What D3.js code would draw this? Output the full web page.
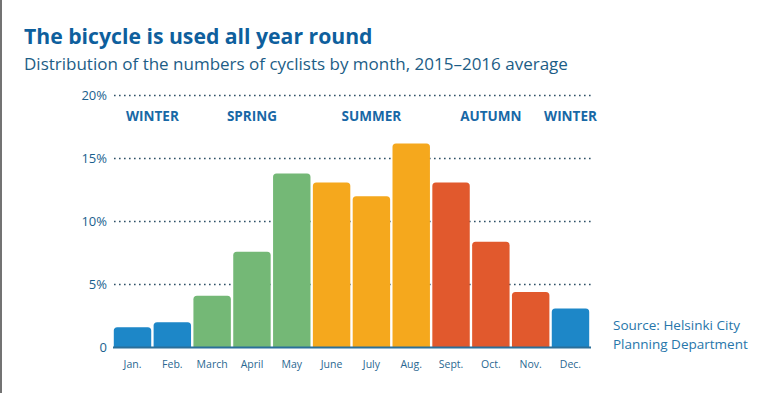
<!DOCTYPE html>
<html>
<head>
<meta charset="utf-8">
<script src="https://cdn.jsdelivr.net/npm/d3@7"></script>
<style>
  body { margin:0; background:#fff; }
  svg { display:block; font-family:"Open Sans", "Noto Sans", sans-serif; }
</style>
</head>
<body>
<svg id="chart" width="780" height="393"></svg>
<script>
// data
const months = ['Jan.','Feb.','March','April','May','June','July','Aug.','Sept.','Oct.','Nov.','Dec.'];
const shares = [1.6, 2.0, 4.1, 7.6, 13.8, 13.1, 12.0, 16.2, 13.1, 8.4, 4.4, 3.1];
const monthSeason = ['winter','winter','spring','spring','spring','summer','summer','summer','autumn','autumn','autumn','winter'];
const seasonLabels = [
  {text:'WINTER', from:'Jan.', to:'Feb.'},
  {text:'SPRING', from:'April', to:'April'},
  {text:'SUMMER', from:'July', to:'July'},
  {text:'AUTUMN', from:'Oct.', to:'Oct.'},
  {text:'WINTER', from:'Dec.', to:'Dec.'}
];
const yTicks = [0, 5, 10, 15, 20];

const seasonColor = {winter:'#1d87c8', spring:'#74b876', summer:'#f5a81d', autumn:'#e1592d'};
const textBlue = '#1b5f8e';

const svg = d3.select('#chart');

// thin frame line on the left
svg.append('line').attr('x1',1).attr('x2',1).attr('y1',0).attr('y2',393)
  .attr('stroke','#444').attr('stroke-width',1.5);

// title + subtitle
svg.append('text').attr('x',24).attr('y',44)
  .style('font-size','21.2px').style('font-weight',700).style('fill','#0e5f9d')
  .text('The bicycle is used all year round');
svg.append('text').attr('x',24).attr('y',70)
  .style('font-size','17px').style('fill','#1c5d86')
  .text('Distribution of the numbers of cyclists by month, 2015–2016 average');

const x = d3.scaleBand().domain(months).range([113, 590]).paddingInner(0.06).paddingOuter(0.02);
const y = d3.scaleLinear().domain([0, 20]).range([347.5, 95.5]);

// dotted grid
const grid = svg.append('g');
grid.selectAll('line').data(yTicks.filter(d => d > 0)).join('line')
  .attr('x1', 114).attr('x2', 593)
  .attr('y1', d => y(d)).attr('y2', d => y(d))
  .attr('stroke', '#2d4f66').attr('stroke-width', 1.6)
  .attr('stroke-dasharray', '1.6,3.4');

// y tick labels
svg.append('g').selectAll('text').data(yTicks).join('text')
  .attr('x', 107).attr('y', d => y(d)).attr('dy','0.35em')
  .attr('text-anchor','end')
  .style('font-size','13px').style('fill', textBlue)
  .text(d => d === 0 ? '0' : d + '%');

// bars with rounded tops
const r = 3.5;
function barPath(d, i){
  const x0 = x(months[i]), w = x.bandwidth();
  const y0 = y(d), yb = y(0);
  return `M${x0},${yb}V${y0 + r}Q${x0},${y0} ${x0 + r},${y0}H${x0 + w - r}Q${x0 + w},${y0} ${x0 + w},${y0 + r}V${yb}Z`;
}
svg.append('g').selectAll('path').data(shares).join('path')
  .attr('d', barPath)
  .attr('fill', (d, i) => seasonColor[monthSeason[i]]);

// baseline
svg.append('line').attr('x1', 113).attr('x2', 591).attr('y1', y(0)).attr('y2', y(0))
  .attr('stroke', '#2b6f99').attr('stroke-width', 1.8);

// month labels
svg.append('g').selectAll('text').data(months).join('text')
  .attr('x', d => x(d) + x.bandwidth() / 2).attr('y', 368)
  .attr('text-anchor','middle')
  .style('font-size','10.5px').style('fill', '#2a6791')
  .text(d => d);

// season labels
svg.append('g').selectAll('text').data(seasonLabels).join('text')
  .attr('x', d => (x(d.from) + x(d.to) + x.bandwidth()) / 2)
  .attr('y', 121)
  .attr('text-anchor','middle')
  .style('font-size','13.5px').style('font-weight',700).style('fill','#1868a6')
  .text(d => d.text);

// source note
const src = svg.append('text').attr('x', 613).style('font-size','13.5px').style('fill','#2776aa');
src.append('tspan').attr('x', 613).attr('y', 330).text('Source: Helsinki City');
src.append('tspan').attr('x', 613).attr('y', 349).text('Planning Department');
</script>
</body>
</html>
